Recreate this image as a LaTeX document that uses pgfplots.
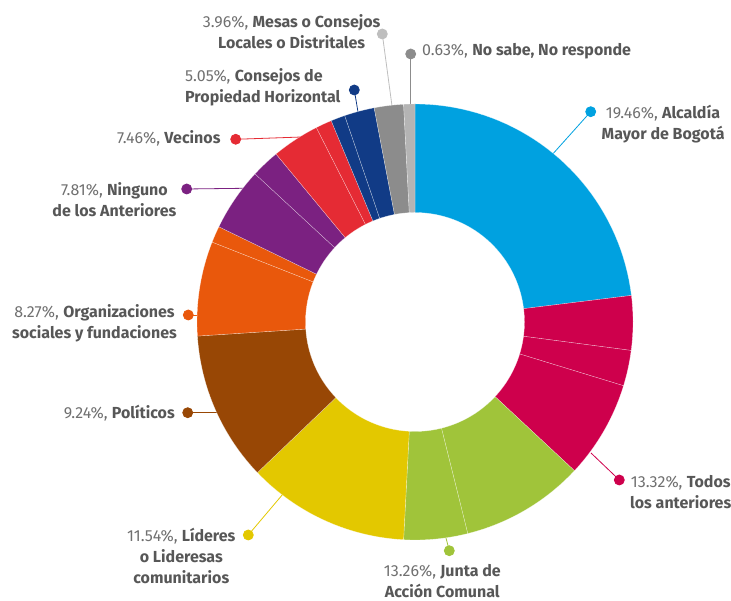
\documentclass[border=0pt]{standalone}
\usepackage{pgfplots}
\pgfplotsset{compat=1.18}
\usepackage{fontspec}
\setmainfont{Fira Sans}
\definecolor{cblue}{HTML}{00A1E0}
\definecolor{cmag}{HTML}{CE004C}
\definecolor{cgreen}{HTML}{A0C43A}
\definecolor{cyellow}{HTML}{E3C800}
\definecolor{cbrown}{HTML}{984705}
\definecolor{corange}{HTML}{E9580C}
\definecolor{cpurple}{HTML}{7B2181}
\definecolor{cred}{HTML}{E52B34}
\definecolor{cdblue}{HTML}{113B86}
\definecolor{cgray}{HTML}{8C8C8C}
\definecolor{clgray}{HTML}{B4B4B4}
\definecolor{cdotl}{HTML}{BEBEBE}
\definecolor{ctext}{HTML}{575757}
\definecolor{cnum}{HTML}{707070}
\newcommand{\pc}[1]{\textcolor{cnum}{#1}}
\tikzset{lbl/.style={font=\fontsize{16}{21}\selectfont, text=ctext, inner sep=0pt}}
% one annular sector: colour, start angle, end angle (degrees, clockwise)
\newcommand{\seg}[3]{\addplot[fill=#1, draw=white, draw opacity=0.55, line width=0.35pt, line join=round, variable=\t, samples at={0,1,...,40,100,101,...,140}] ({segr(\t)*cos(sega(\t,#2,#3))},{segr(\t)*sin(sega(\t,#2,#3))}) -- cycle;}
% leader: colour, dot x, dot y, end x, end y
\newcommand{\lead}[5]{\addplot[color=#1, line width=0.8pt, mark=*, mark size=5pt, mark indices={1}, mark options={solid, fill=#1, draw=none}] coordinates {(#2,#3) (#4,#5)};}
\begin{document}
\begin{tikzpicture}
\begin{axis}[at={(0,0)}, anchor=south west, scale only axis, width=731pt, height=601pt,
  xmin=-415, xmax=316, ymin=-279, ymax=322, hide axis, clip=false,
  declare function={segr(\t)=(\t<=40)?218:109.5;
    sega(\t,\angA,\angB)=(\t<=40)?(\angA+(\angB-\angA)*\t/40):(\angB+(\angA-\angB)*(\t-100)/40);}]
% leader lines
\lead{cblue}{175.7}{210.3}{136}{166}
\lead{cmag}{204.3}{-158}{176}{-131}
\lead{cgreen}{34.3}{-228.7}{31}{-216}
\lead{cyellow}{-166.7}{-213}{-132}{-172}
\lead{cbrown}{-227.3}{-90.7}{-196}{-90.7}
\lead{corange}{-226.7}{7}{-216}{7}
\lead{cpurple}{-228.3}{133}{-171}{133.7}
\lead{cred}{-179.3}{182.7}{-113}{185}
\lead{cdblue}{-60.7}{232}{-57}{210}
\lead{cdotl}{-32.7}{288}{-23}{216}
\lead{cgray}{-4.3}{268}{-4.3}{215}
% sectors (angles)
\seg{cblue}{90}{7}
\seg{cmag}{7}{-7.5}
\seg{cmag}{-7.5}{-17}
\seg{cmag}{-17}{-43}
\seg{cgreen}{-43}{-76}
\seg{cgreen}{-76}{-93}
\seg{cyellow}{-93}{-136.3}
\seg{cbrown}{-136.3}{-176.3}
\seg{corange}{-176.3}{-201.5}
\seg{corange}{-201.5}{-205.9}
\seg{cpurple}{-205.9}{-222.8}
\seg{cpurple}{-222.8}{-230.4}
\seg{cred}{-230.4}{-243.1}
\seg{cred}{-243.1}{-247.4}
\seg{cdblue}{-247.4}{-251.2}
\seg{cdblue}{-251.2}{-259.2}
\seg{cgray}{-259.2}{-267}
\seg{clgray}{-267}{-270}
% labels
\node[lbl, anchor=west, align=center] at (axis cs:186.5,198.3) {\pc{19.46\%,} \textbf{Alcaldía}\\\textbf{Mayor de Bogotá}};
\node[lbl, anchor=west, align=center] at (axis cs:215,-169.7) {\pc{13.32\%,} \textbf{Todos}\\\textbf{los anteriores}};
\node[lbl, align=center] at (axis cs:27.3,-259) {\pc{13.26\%,} \textbf{Junta de}\\\textbf{Acción Comunal}};
\node[lbl, align=center] at (axis cs:-233.7,-234) {\pc{11.54\%,} \textbf{Líderes}\\\textbf{o Lideresas}\\\textbf{comunitarios}};
\node[lbl, anchor=east] at (axis cs:-240,-90.7) {\pc{9.24\%,} \textbf{Políticos}};
\node[lbl, align=center] at (axis cs:-320.5,-1.7) {\pc{8.27\%,} \textbf{Organizaciones}\\\textbf{sociales y fundaciones}};
\node[lbl, align=center] at (axis cs:-300.6,122.3) {\pc{7.81\%,} \textbf{Ninguno}\\\textbf{de los Anteriores}};
\node[lbl, anchor=east] at (axis cs:-194.3,183.7) {\pc{7.46\%,} \textbf{Vecinos}};
\node[lbl, anchor=west, align=left] at (axis cs:-230,234.7) {\pc{5.05\%,} \textbf{Consejos de}\\\textbf{Propiedad Horizontal}};
\node[lbl, align=center] at (axis cs:-123.3,290.8) {\pc{3.96\%,} \textbf{Mesas o Consejos}\\\textbf{Locales o Distritales}};
\node[lbl, anchor=west] at (axis cs:7,270.3) {\pc{0.63\%,} \textbf{No sabe, No responde}};
\end{axis}
\pgfresetboundingbox
\path[use as bounding box] (0,0) rectangle (731pt,601pt);
\end{tikzpicture}
\end{document}
